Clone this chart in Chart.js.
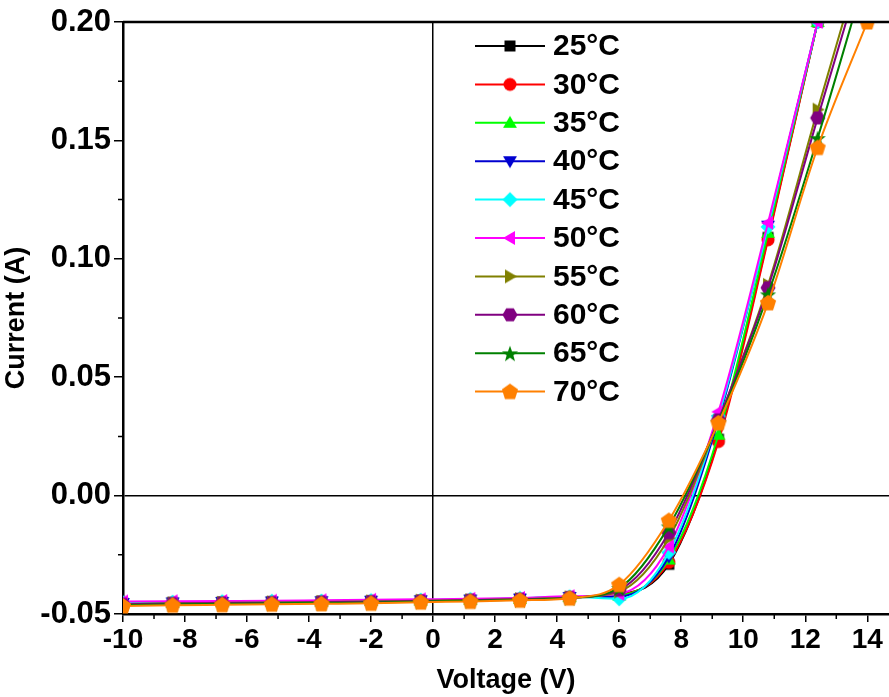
<!DOCTYPE html>
<html>
<head>
<meta charset="utf-8">
<script src="https://cdn.jsdelivr.net/npm/chart.js@4/dist/chart.umd.min.js"></script>
<style>
  html, body { margin: 0; padding: 0; background: #fff; overflow: hidden; }
  #wrap { width: 889px; height: 697px; position: relative; }
</style>
</head>
<body>
<div id="wrap"><canvas id="chart"></canvas></div>
<script>
// voltage sweep (V)
const voltage = [-10, -8.4, -6.8, -5.2, -3.6, -2, -0.4, 1.2, 2.8, 4.4, 6, 7.6, 9.2, 10.8, 12.4, 14];

const labels = ["25°C", "30°C", "35°C", "40°C", "45°C", "50°C", "55°C", "60°C", "65°C", "70°C"];

// current (A) per temperature
const i25 = [-0.0455, -0.0452, -0.0450, -0.0449, -0.0447, -0.0446, -0.0443, -0.0441, -0.0437, -0.0430, -0.0418, -0.0290, 0.0238, 0.109, 0.200, 0.290];
const i30 = [-0.0456, -0.0453, -0.0451, -0.0449, -0.0448, -0.0446, -0.0444, -0.0441, -0.0437, -0.0430, -0.0420, -0.0282, 0.0228, 0.108, 0.200, 0.290];
const i35 = [-0.0455, -0.0452, -0.0450, -0.0448, -0.0447, -0.0445, -0.0443, -0.0440, -0.0436, -0.0429, -0.0422, -0.0270, 0.0257, 0.111, 0.200, 0.290];
const i40 = [-0.0454, -0.0451, -0.0449, -0.0447, -0.0446, -0.0444, -0.0442, -0.0439, -0.0435, -0.0428, -0.0426, -0.0258, 0.0320, 0.114, 0.200, 0.290];
const i45 = [-0.0452, -0.0450, -0.0448, -0.0446, -0.0445, -0.0443, -0.0441, -0.0438, -0.0434, -0.0427, -0.0436, -0.0240, 0.0335, 0.1135, 0.200, 0.290];
const i50 = [-0.0447, -0.0446, -0.0445, -0.0444, -0.0442, -0.0440, -0.0438, -0.0436, -0.0432, -0.0425, -0.0415, -0.0215, 0.0354, 0.1152, 0.200, 0.290];
const i55 = [-0.0458, -0.0455, -0.0453, -0.0451, -0.0449, -0.0447, -0.0444, -0.0441, -0.0437, -0.0430, -0.0405, -0.0180, 0.0315, 0.0890, 0.163, 0.235];
const i60 = [-0.0459, -0.0456, -0.0454, -0.0452, -0.0450, -0.0448, -0.0445, -0.0442, -0.0438, -0.0431, -0.0398, -0.0157, 0.0320, 0.0878, 0.1595, 0.230];
const i65 = [-0.0462, -0.0459, -0.0457, -0.0455, -0.0453, -0.0451, -0.0447, -0.0444, -0.0440, -0.0432, -0.0390, -0.0130, 0.0310, 0.0850, 0.151, 0.222];
const i70 = [-0.0466, -0.0463, -0.0461, -0.0459, -0.0457, -0.0455, -0.0450, -0.0447, -0.0442, -0.0433, -0.0376, -0.0105, 0.0307, 0.0814, 0.147, 0.200];

const series = [i25, i30, i35, i40, i45, i50, i55, i60, i65, i70];
const colors = ["#000000", "#ff0000", "#00ff00", "#0000d0", "#00ffff", "#ff00ff", "#808000", "#800080", "#008000", "#ff8000"];
const shapes = ["square", "circle", "triUp", "triDown", "diamond", "triLeft", "triRight", "hexagon", "star", "pentagon"];

const xTicks = [-10, -8, -6, -4, -2, 0, 2, 4, 6, 8, 10, 12, 14];
const yTicks = [-0.05, 0, 0.05, 0.10, 0.15, 0.20];

function polygon(ctx, cx, cy, r, n, startDeg) {
  ctx.beginPath();
  for (let k = 0; k < n; k++) {
    const a = (startDeg + k * 360 / n) * Math.PI / 180;
    const px = cx + r * Math.cos(a), py = cy + r * Math.sin(a);
    if (k === 0) ctx.moveTo(px, py); else ctx.lineTo(px, py);
  }
  ctx.closePath();
}

// marker glyphs drawn once into small canvases, used as pointStyle
function makeMarker(shape, color) {
  const c = document.createElement("canvas");
  c.width = 20; c.height = 20;
  const ctx = c.getContext("2d");
  const m = 10;
  ctx.fillStyle = color;
  if (shape === "square") {
    ctx.beginPath(); ctx.rect(m - 5.5, m - 5.5, 11, 11);
  } else if (shape === "circle") {
    ctx.beginPath(); ctx.arc(m, m, 6.5, 0, Math.PI * 2);
  } else if (shape === "triUp") {
    polygon(ctx, m, m + 1, 8, 3, -90);
  } else if (shape === "triDown") {
    polygon(ctx, m, m - 1, 8, 3, 90);
  } else if (shape === "triLeft") {
    polygon(ctx, m + 1, m, 8, 3, 180);
  } else if (shape === "triRight") {
    polygon(ctx, m - 1, m, 8, 3, 0);
  } else if (shape === "diamond") {
    polygon(ctx, m, m, 7.5, 4, -90);
  } else if (shape === "hexagon") {
    polygon(ctx, m, m, 7.5, 6, 0);
  } else if (shape === "pentagon") {
    polygon(ctx, m, m + 0.5, 8.5, 5, -90);
  } else if (shape === "star") {
    ctx.beginPath();
    for (let k = 0; k < 10; k++) {
      const r = k % 2 === 0 ? 8.5 : 3.5;
      const a = (-90 + k * 36) * Math.PI / 180;
      const px = m + r * Math.cos(a), py = m + 1 + r * Math.sin(a);
      if (k === 0) ctx.moveTo(px, py); else ctx.lineTo(px, py);
    }
    ctx.closePath();
  }
  ctx.fill();
  return c;
}

const markers = shapes.map((s, i) => makeMarker(s, colors[i]));

const datasets = series.map((vals, i) => ({
  label: labels[i],
  data: voltage.map((v, k) => ({ x: v, y: vals[k] })),
  borderColor: colors[i],
  backgroundColor: colors[i],
  borderWidth: 2,
  pointStyle: markers[i],
  pointRadius: 8,
  cubicInterpolationMode: "monotone",
  order: series.length - i,
}));

const FONT = "'Liberation Sans', Arial, sans-serif";

const framePlugin = {
  id: "frame",
  afterDraw(chart) {
    const { ctx, chartArea } = chart;
    const xs = chart.scales.x, ys = chart.scales.y;
    ctx.save();
    ctx.strokeStyle = "#000";
    // top frame line
    ctx.lineWidth = 2.5;
    ctx.beginPath();
    ctx.moveTo(chartArea.left, chartArea.top);
    ctx.lineTo(chartArea.right, chartArea.top);
    ctx.stroke();
    // minor ticks
    ctx.lineWidth = 1.5;
    ctx.beginPath();
    for (let v = -9; v <= 14.5; v += 2) {
      const px = xs.getPixelForValue(v);
      ctx.moveTo(px, chartArea.bottom);
      ctx.lineTo(px, chartArea.bottom + 5);
    }
    for (let k = 0; k < yTicks.length - 1; k++) {
      const py = ys.getPixelForValue((yTicks[k] + yTicks[k + 1]) / 2);
      ctx.moveTo(chartArea.left, py);
      ctx.lineTo(chartArea.left - 5, py);
    }
    ctx.stroke();

    // legend (line + marker + label)
    const lx0 = 475, lx1 = 545, tx = 553, y0 = 46, dy = 38.4;
    ctx.font = "bold 30px " + FONT;
    ctx.textBaseline = "middle";
    labels.forEach((lab, i) => {
      const y = y0 + i * dy;
      ctx.strokeStyle = colors[i];
      ctx.lineWidth = 2;
      ctx.beginPath();
      ctx.moveTo(lx0, y);
      ctx.lineTo(lx1, y);
      ctx.stroke();
      const mk = markers[i];
      ctx.drawImage(mk, (lx0 + lx1) / 2 - mk.width / 2, y - mk.height / 2);
      ctx.fillStyle = "#000";
      ctx.fillText(lab, tx, y + 1);
    });
    ctx.restore();
  },
};

new Chart(document.getElementById("chart"), {
  type: "line",
  data: { datasets },
  options: {
    responsive: true,
    maintainAspectRatio: false,
    animation: false,
    layout: { autoPadding: false, padding: { top: 22, right: 0, left: 0, bottom: 0 } },
    plugins: { legend: { display: false }, tooltip: { enabled: false } },
    scales: {
      x: {
        type: "linear",
        min: -10,
        max: 14.7,
        afterBuildTicks: (scale) => { scale.ticks = xTicks.map((v) => ({ value: v })); },
        afterFit: (scale) => {
          scale.height = 83;
          scale.paddingLeft = 0;
          scale.paddingRight = 0;
        },
        border: { display: true, color: "#000", width: 2.5 },
        grid: {
          drawOnChartArea: true,
          color: (c) => (c.tick && c.tick.value === 0 ? "#000" : "rgba(0,0,0,0)"),
          lineWidth: 1.5,
          tickColor: "#000",
          tickLength: 8,
          tickWidth: 1.5,
        },
        ticks: {
          color: "#000",
          font: { family: FONT, size: 28, weight: "bold" },
          padding: 1,
          maxRotation: 0,
          callback: (v) => String(v),
        },
        title: {
          display: true,
          text: "Voltage (V)",
          color: "#000",
          font: { family: FONT, size: 27, weight: "bold" },
          padding: { top: 0, bottom: 0 },
        },
      },
      y: {
        type: "linear",
        min: -0.05,
        max: 0.2,
        afterBuildTicks: (scale) => { scale.ticks = yTicks.map((v) => ({ value: v })); },
        afterFit: (scale) => { scale.width = 123; },
        border: { display: true, color: "#000", width: 2.5 },
        grid: {
          drawOnChartArea: true,
          color: (c) => (c.tick && Math.abs(c.tick.value) < 1e-9 ? "#000" : "rgba(0,0,0,0)"),
          lineWidth: 1.5,
          tickColor: "#000",
          tickLength: 9,
          tickWidth: 1.5,
        },
        ticks: {
          color: "#000",
          font: { family: FONT, size: 31, weight: "bold" },
          padding: 3,
          callback: (v) => Number(v).toFixed(2),
        },
        title: {
          display: true,
          text: "Current (A)",
          color: "#000",
          font: { family: FONT, size: 27, weight: "bold" },
          padding: { top: 0, bottom: 0 },
        },
      },
    },
  },
  plugins: [framePlugin],
});
</script>
</body>
</html>
